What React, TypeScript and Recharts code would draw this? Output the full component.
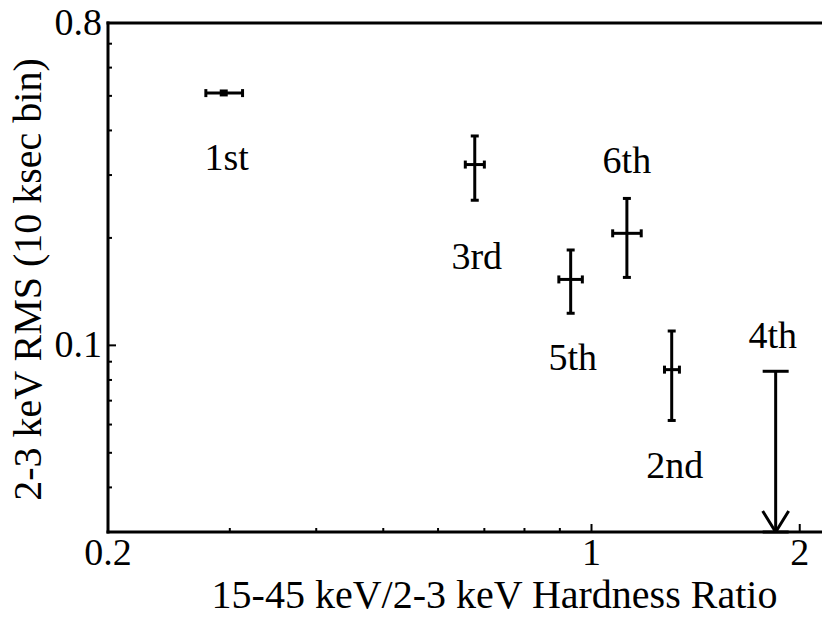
import React from 'react';
import { ScatterChart, Scatter, XAxis, YAxis, ErrorBar, Label } from 'recharts';

// detected intervals (hardness ratio vs. 2-3 keV rms)
const labels = ['1st', '2nd', '3rd', '5th', '6th'];
const hardness = [0.294, 1.306, 0.678, 0.933, 1.125];
const hardnessLow = [0.277, 1.275, 0.657, 0.897, 1.073];
const hardnessHigh = [0.313, 1.34, 0.7, 0.97, 1.18];
const rms = [0.509, 0.0855, 0.321, 0.153, 0.206];
const rmsLow = [0.503, 0.0616, 0.255, 0.123, 0.155];
const rmsHigh = [0.516, 0.1097, 0.386, 0.185, 0.258];

// 4th interval: upper limit only
const limitLabel = '4th';
const limitHardness = 1.846;
const limitRms = 0.0846;

const xTicks = [0.2, 0.3, 0.4, 0.5, 0.6, 0.7, 0.8, 0.9, 1, 2];
const xTickLabels = [0.2, 1, 2];
const yTicks = [0.04, 0.05, 0.06, 0.07, 0.08, 0.09, 0.1, 0.2, 0.3, 0.4, 0.5, 0.6, 0.7, 0.8];
const yTickLabels = [0.1, 0.8];

const X_DOMAIN = [0.2, 2.19];
const Y_DOMAIN = [0.03, 0.8];

// pixel offsets of the text labels from their points
const labelOffset: Record<string, [number, number]> = {
  '1st': [3, 64],
  '2nd': [3, 95],
  '3rd': [2, 91],
  '5th': [2, 78],
  '6th': [0, -73],
  '4th': [-3, -36],
};

const FONT = "'Liberation Serif', 'Times New Roman', Times, Tinos, 'DejaVu Serif', 'Noto Serif', serif";
const INK = '#000';
const txt = { fontFamily: FONT };

const points = labels.map((name, i) => ({
  name,
  x: hardness[i],
  y: rms[i],
  xErr: [hardness[i] - hardnessLow[i], hardnessHigh[i] - hardness[i]],
  yErr: [rms[i] - rmsLow[i], rmsHigh[i] - rms[i]],
}));

const limitPoint = [
  { name: limitLabel, x: limitHardness, y: limitRms, yErr: [limitRms - Y_DOMAIN[0], 0] },
];
const arrowTip = [{ name: 'tip', x: limitHardness, y: Y_DOMAIN[0] }];

const makeTick = (side: 'left' | 'right' | 'top' | 'bottom', labelled: number[]) => (props: any) => {
  const { x, y, payload } = props;
  const v = payload.value;
  const major = labelled.includes(v);
  const len = major ? 8 : 4;
  let line;
  let text = null;
  if (side === 'bottom') {
    line = <line x1={x} y1={y} x2={x} y2={y - len} />;
    if (major)
      text = (
        <text x={x} y={y + 33} textAnchor="middle" style={txt}>
          {v}
        </text>
      );
  } else if (side === 'top') {
    line = <line x1={x} y1={y} x2={x} y2={y + len} />;
  } else if (side === 'left') {
    line = <line x1={x} y1={y} x2={x + len} y2={y} />;
    if (major)
      text = (
        <text x={x - 6} y={y + 12} textAnchor="end" style={txt}>
          {v}
        </text>
      );
  } else {
    line = <line x1={x} y1={y} x2={x - len} y2={y} />;
  }
  return (
    <g stroke={INK} strokeWidth={2} fill={INK} fontSize={38}>
      {line}
      {text && <g stroke="none">{text}</g>}
    </g>
  );
};

const renderPointLabel = (props: any) => {
  const { cx, cy, payload } = props;
  const [dx, dy] = labelOffset[payload.name] || [0, 0];
  return (
    <text x={cx + dx} y={cy + dy + 13} textAnchor="middle" fontSize={38} style={txt} fill={INK}>
      {payload.name}
    </text>
  );
};

const renderArrowHead = (props: any) => {
  const { cx, cy } = props;
  return (
    <path
      d={`M${cx - 13},${cy - 21} L${cx},${cy} L${cx + 13},${cy - 21}`}
      fill="none"
      stroke={INK}
      strokeWidth={3}
    />
  );
};

const renderXTitle = (props: any) => {
  const vb = props.viewBox;
  return (
    <text
      x={vb.x + vb.width / 2 + 27}
      y={vb.y + 76}
      textAnchor="middle"
      fontSize={40}
      style={txt}
      fill={INK}
    >
      15-45 keV/2-3 keV Hardness Ratio
    </text>
  );
};

const renderYTitle = (props: any) => {
  const vb = props.viewBox;
  const cx = vb.x + 33;
  const cy = vb.y + vb.height / 2 + 2;
  return (
    <text
      x={cx}
      y={cy}
      transform={`rotate(-90, ${cx}, ${cy})`}
      textAnchor="middle"
      fontSize={40}
      style={txt}
      fill={INK}
    >
      2-3 keV RMS (10 ksec bin)
    </text>
  );
};

const frame = { stroke: INK, strokeWidth: 3, strokeLinecap: 'square' as const };

export default function App() {
  return (
    <div style={{ width: 822, height: 609, background: '#fff', fontFamily: FONT }}>
      <ScatterChart width={822} height={609} margin={{ top: 14, right: 3, bottom: 0, left: 0 }}>
        <XAxis
          dataKey="x"
          type="number"
          scale="log"
          domain={X_DOMAIN}
          allowDataOverflow
          ticks={xTicks}
          interval={0}
          tickSize={0}
          tickMargin={0}
          tickLine={false}
          axisLine={frame}
          tick={makeTick('bottom', xTickLabels)}
          height={85}
        >
          <Label content={renderXTitle} />
        </XAxis>
        <XAxis
          xAxisId="top"
          orientation="top"
          type="number"
          scale="log"
          domain={X_DOMAIN}
          allowDataOverflow
          ticks={xTicks}
          interval={0}
          tickSize={0}
          tickMargin={0}
          tickLine={false}
          axisLine={frame}
          tick={makeTick('top', xTickLabels)}
          height={1}
        />
        <YAxis
          dataKey="y"
          type="number"
          scale="log"
          domain={Y_DOMAIN}
          allowDataOverflow
          ticks={yTicks}
          interval={0}
          tickSize={0}
          tickMargin={0}
          tickLine={false}
          axisLine={frame}
          tick={makeTick('left', yTickLabels)}
          width={100}
        >
          <Label content={renderYTitle} />
        </YAxis>
        <YAxis
          yAxisId="right"
          orientation="right"
          type="number"
          scale="log"
          domain={Y_DOMAIN}
          allowDataOverflow
          ticks={yTicks}
          interval={0}
          tickSize={0}
          tickMargin={0}
          tickLine={false}
          axisLine={frame}
          tick={makeTick('right', yTickLabels)}
          width={0}
        />
        <Scatter data={points} shape={renderPointLabel} isAnimationActive={false}>
          <ErrorBar dataKey="xErr" direction="x" width={4} stroke={INK} strokeWidth={3} isAnimationActive={false} />
          <ErrorBar dataKey="yErr" direction="y" width={4} stroke={INK} strokeWidth={3} isAnimationActive={false} />
        </Scatter>
        <Scatter data={limitPoint} shape={renderPointLabel} isAnimationActive={false}>
          <ErrorBar dataKey="yErr" direction="y" width={13} stroke={INK} strokeWidth={3} isAnimationActive={false} />
        </Scatter>
        <Scatter data={arrowTip} shape={renderArrowHead} isAnimationActive={false} />
      </ScatterChart>
    </div>
  );
}
